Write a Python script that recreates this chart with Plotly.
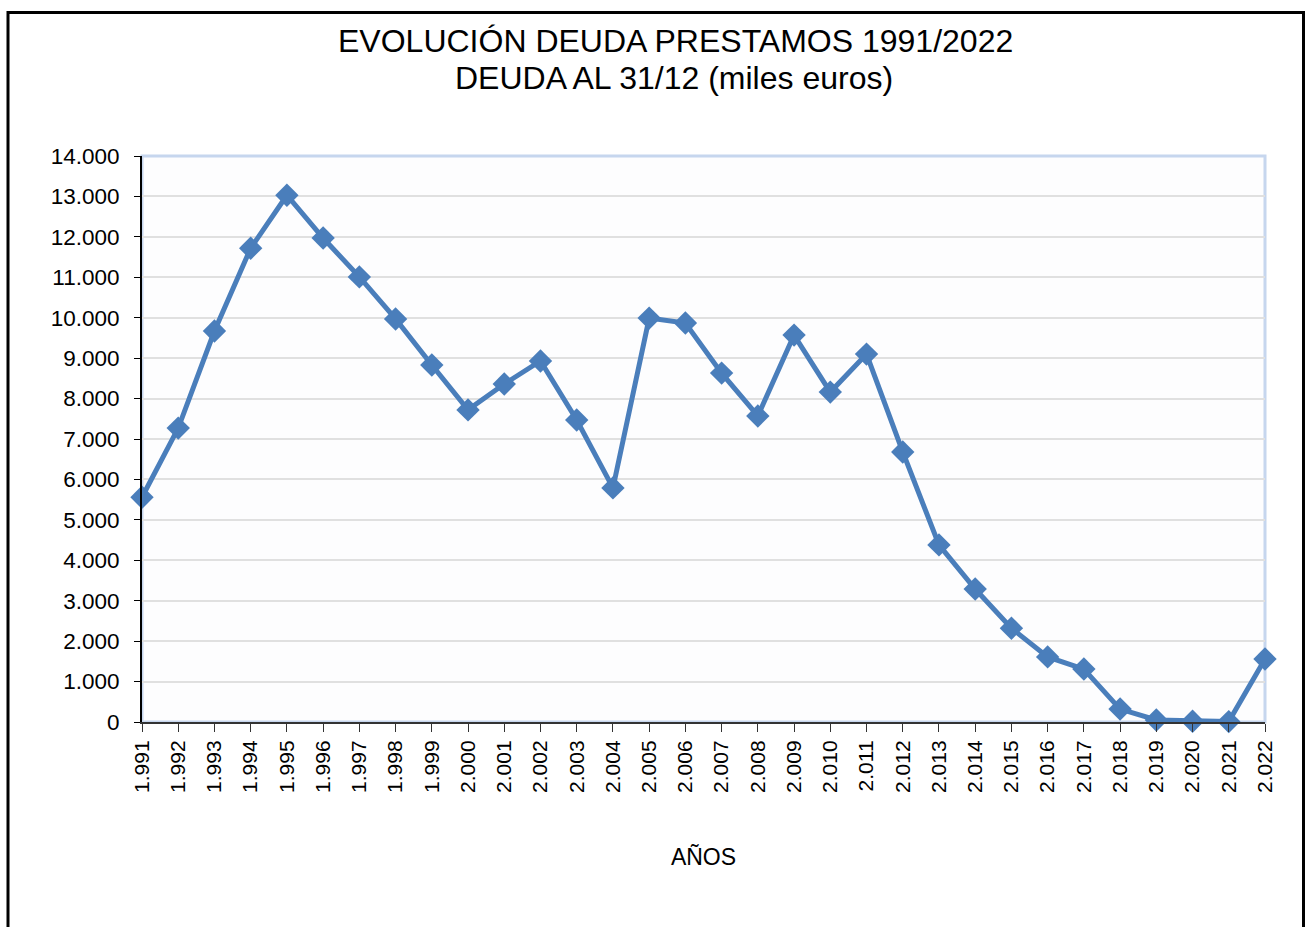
import plotly.graph_objects as go

years = list(range(1991, 2023))
deuda = [5560, 7270, 9670, 11720, 13030, 11970, 11010, 9970, 8830, 7720,
         8360, 8930, 7470, 5790, 9990, 9870, 8630, 7570, 9570, 8160,
         9100, 6680, 4380, 3290, 2320, 1610, 1310, 320, 50, 20,
         10, 1560]
tick_text = [f"{y // 1000}.{y % 1000:03d}" for y in years]
y_ticks = list(range(0, 14001, 1000))
title_lines = ["EVOLUCIÓN DEUDA PRESTAMOS 1991/2022", "DEUDA AL 31/12 (miles euros)"]

W, H = 1314, 927
L, R, T, B = 142, 1265, 156, 722
pw, ph = R - L, B - T

def px(x):
    return (x - L) / pw

def py(y):
    return (B - y) / ph

fig = go.Figure()
fig.add_trace(go.Scatter(
    x=years, y=deuda, mode="lines+markers",
    line=dict(color="#4a7ebb", width=5),
    marker=dict(symbol="diamond", size=18, color="#4a7ebb"),
    cliponaxis=False, showlegend=False,
))

font = "Liberation Sans, Arial, sans-serif"
annotations = [
    dict(text=title_lines[0], xref="paper", yref="paper", x=px(675), y=py(41),
         xanchor="center", yanchor="middle", showarrow=False,
         font=dict(size=32, family=font, color="black")),
    dict(text=title_lines[1], xref="paper", yref="paper", x=px(674), y=py(78),
         xanchor="center", yanchor="middle", showarrow=False,
         font=dict(size=32, family=font, color="black")),
]

fig.update_layout(
    width=W, height=H,
    margin=dict(l=L, r=W - R, t=T, b=H - B),
    paper_bgcolor="white", plot_bgcolor="#fdfdfe",
    separators=",.",
    font=dict(family=font, color="black", size=21),
    annotations=annotations,
    xaxis=dict(range=[1991, 2022], tickvals=years, ticktext=tick_text,
               tickangle=-90, showgrid=False, zeroline=False,
               showline=True, linecolor="#333333", linewidth=2,
               ticks="outside", ticklen=8, tickcolor="#333333",
               tickfont=dict(size=21),
               title=dict(text="AÑOS", font=dict(size=23), standoff=57)),
    yaxis=dict(range=[0, 14000], tickvals=y_ticks, tickformat=",d",
               showgrid=True, gridcolor="#e0e0e0", gridwidth=2,
               zeroline=False, showline=True, linecolor="black", linewidth=2,
               ticks="outside", ticklen=6, tickcolor="black",
               ticklabelstandoff=10,
               tickfont=dict(size=22.5)),
    shapes=[
        dict(type="rect", xref="paper", yref="paper", x0=0, x1=1, y0=0, y1=1,
             line=dict(color="#c6d6ee", width=3), layer="below"),
        dict(type="rect", xref="paper", yref="paper",
             x0=px(8), x1=px(1303.5), y0=py(12.5), y1=py(960),
             line=dict(color="black", width=3), layer="above"),
    ],
)

fig.write_html("out.html", config={"displayModeBar": False},
               post_script="document.body.style.margin='0';document.body.style.overflow='hidden';")
